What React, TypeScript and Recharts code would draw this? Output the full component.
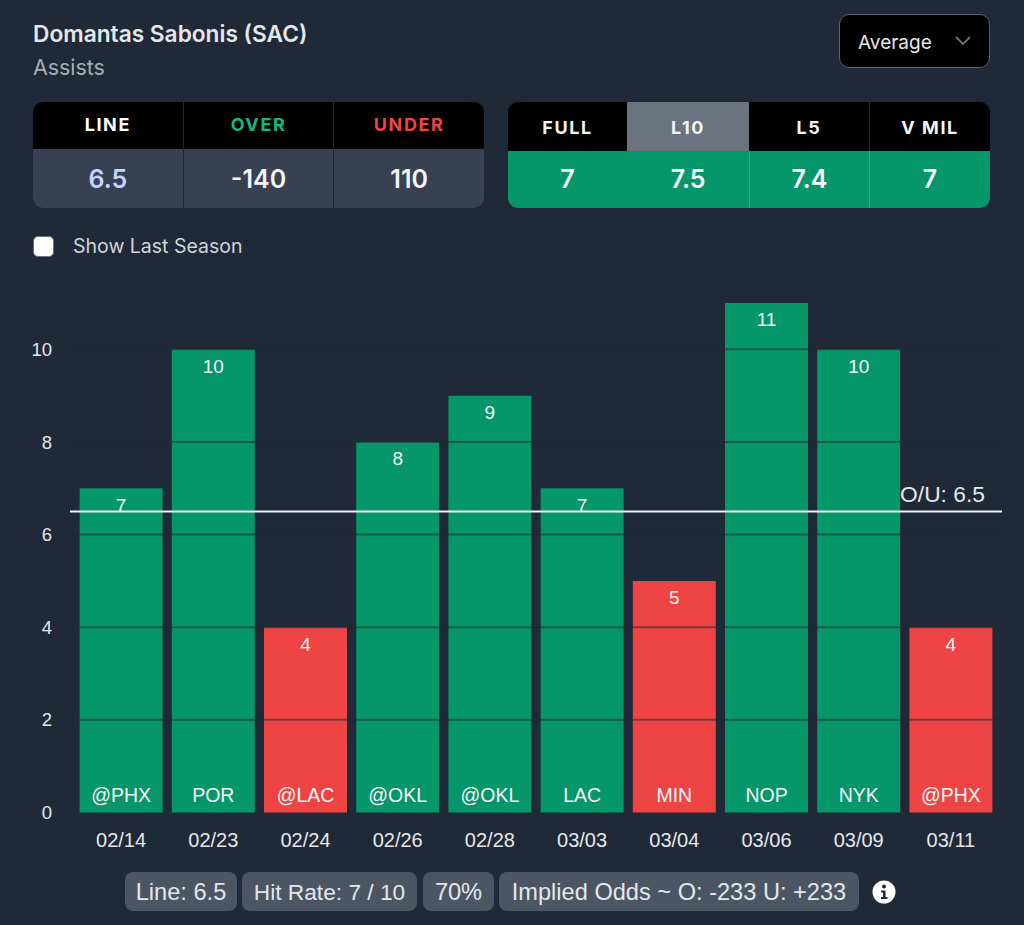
import { BarChart, Bar, Cell, LabelList, ReferenceLine, XAxis, YAxis } from 'recharts';

const dates = ['02/14', '02/23', '02/24', '02/26', '02/28', '03/03', '03/04', '03/06', '03/09', '03/11'];
const opponents = ['@PHX', 'POR', '@LAC', '@OKL', '@OKL', 'LAC', 'MIN', 'NOP', 'NYK', '@PHX'];
const assists = [7, 10, 4, 8, 9, 7, 5, 11, 10, 4];
const yTicks = [0, 2, 4, 6, 8, 10];
const ouLine = 6.5;

const lineHeads = ['LINE', 'OVER', 'UNDER'];
const lineValues = ['6.5', '-140', '110'];
const avgHeads = ['FULL', 'L10', 'L5', 'V MIL'];
const avgValues = ['7', '7.5', '7.4', '7'];
const pillTexts = ['Line: 6.5', 'Hit Rate: 7 / 10', '70%', 'Implied Odds ~ O: -233 U: +233'];

const chartData = dates.map((date, i) => ({ date, opponent: opponents[i], assists: assists[i] }));

const BG = '#1f2937';
const GREEN = '#059669';
const RED = '#ef4444';
const UI_FONT = 'Inter, sans-serif';
const CHART_FONT = '"Liberation Sans", Arial, sans-serif';

// styling per column / pill, same order as the text lists above
const lineHeadColors = ['#ffffff', '#10b981', '#ef4444'];
const lineValueColors = ['#c7d2fe', '#f3f4f6', '#f3f4f6'];
const avgWidths = [119, 122, 120, 121];
const activeAvg = 1;
const pillLefts = [125, 242, 423, 499];
const pillWidths = [112, 175, 71, 360];
const pillFontSizes = [23.6, 22.7, 23.6, 23.6];

function OuLabel({ viewBox }: any) {
  return (
    <text x={viewBox.x + viewBox.width - 17} y={viewBox.y - 9} textAnchor="end" fill="#e5e7eb" fontSize={22.8} fontFamily={CHART_FONT}>
      O/U: {ouLine}
    </text>
  );
}

export default function App() {
  return (
    <div style={{ position: 'absolute', left: 0, top: 0, width: 1024, height: 925, background: BG, overflow: 'hidden', fontFamily: UI_FONT }}>
      <div style={{ position: 'absolute', left: 33, top: 20, fontSize: 22.7, fontWeight: 600, color: '#e5e7eb' }}>Domantas Sabonis (SAC)</div>
      <div style={{ position: 'absolute', left: 33, top: 54, fontSize: 21.4, color: '#a8aeb8' }}>Assists</div>

      <div style={{ position: 'absolute', left: 839, top: 14, width: 149, height: 52, background: '#000', border: '1.5px solid #566070', borderRadius: 10 }}>
        <span style={{ position: 'absolute', left: 18, top: 16, fontSize: 19, color: '#e5e7eb' }}>Average</span>
        <svg width={16} height={10} style={{ position: 'absolute', left: 115, top: 21 }}>
          <path d="M1 1 L8 8 L15 1" fill="none" stroke="#6b7280" strokeWidth={1.8} />
        </svg>
      </div>

      <div style={{ position: 'absolute', left: 33, top: 102, width: 451, height: 106, borderRadius: 10, overflow: 'hidden', display: 'flex' }}>
        {lineHeads.map((head, i) => (
          <div key={head} style={{ flex: 1, borderLeft: i ? '1px solid #1f2937' : 'none' }}>
            <div style={{ height: 47, lineHeight: '46px', background: '#000', color: lineHeadColors[i], textAlign: 'center', fontSize: 18, fontWeight: 700, letterSpacing: 1.6 }}>{head}</div>
            <div style={{ height: 59, lineHeight: '61px', background: '#374151', color: lineValueColors[i], textAlign: 'center', fontSize: 25, fontWeight: 600 }}>{lineValues[i]}</div>
          </div>
        ))}
      </div>

      <div style={{ position: 'absolute', left: 508, top: 102, width: 482, height: 106, borderRadius: 10, overflow: 'hidden', display: 'flex' }}>
        {avgHeads.map((head, i) => (
          <div key={head} style={{ width: avgWidths[i], boxSizing: 'border-box' }}>
            <div style={{ height: 49, lineHeight: '51px', background: i === activeAvg ? '#6b7280' : '#000', color: '#f3f4f6', textAlign: 'center', fontSize: 18, fontWeight: 700, letterSpacing: 1.6, borderLeft: i === 3 ? '1px solid #1f2937' : 'none' }}>{head}</div>
            <div style={{ height: 57, lineHeight: '57px', background: GREEN, color: '#f9fafb', textAlign: 'center', fontSize: 25, fontWeight: 600, borderLeft: i >= 2 ? '1px solid #34a987' : 'none' }}>{avgValues[i]}</div>
          </div>
        ))}
      </div>

      <div style={{ position: 'absolute', left: 33, top: 236, width: 19, height: 19, background: '#fff', border: '1.5px solid #6b7280', borderRadius: 5 }} />
      <div style={{ position: 'absolute', left: 73, top: 234, fontSize: 19.5, color: '#d1d5db' }}>Show Last Season</div>

      <div style={{ position: 'absolute', left: 0, top: 280 }}>
        <BarChart width={1024} height={580} data={chartData} margin={{ top: 23, right: 22, bottom: 0, left: 0 }} barCategoryGap="5%">
          <XAxis
            dataKey="date"
            height={47.5}
            padding={{ left: 5, right: 5 }}
            axisLine={false}
            tickLine={false}
            tickSize={0}
            tickMargin={20}
            interval={0}
            tick={{ fill: '#e5e7eb', fontSize: 20, fontFamily: CHART_FONT }}
          />
          <YAxis
            width={70}
            domain={[0, 11]}
            ticks={yTicks}
            axisLine={false}
            tickLine={false}
            tickSize={0}
            tickMargin={18}
            tick={{ fill: '#e5e7eb', fontSize: 18.5, fontFamily: CHART_FONT }}
          />
          <Bar dataKey="assists" isAnimationActive={false}>
            {chartData.map((d) => (
              <Cell key={d.date} fill={d.assists > ouLine ? GREEN : RED} />
            ))}
            <LabelList dataKey="assists" position="insideTop" offset={10} fill="#f3f4f6" fontSize={19} fontFamily={CHART_FONT} />
            <LabelList dataKey="opponent" position="insideBottom" offset={11} fill="#f3f4f6" fontSize={19.5} fontFamily={CHART_FONT} />
          </Bar>
          {/* gridlines sit on top of the bars here, so they are reference lines */}
          {yTicks.filter((t) => t > 0).map((t) => (
            <ReferenceLine key={t} y={t} stroke={BG} strokeOpacity={0.55} strokeWidth={2} />
          ))}
          <ReferenceLine y={ouLine} stroke="#f3f4f6" strokeWidth={2} label={<OuLabel />} />
        </BarChart>
      </div>

      {pillTexts.map((text, i) => (
        <div key={text} style={{ position: 'absolute', left: pillLefts[i], top: 872, width: pillWidths[i], height: 39, lineHeight: '40px', borderRadius: 8, background: '#4b5563', color: '#e5e7eb', textAlign: 'center', fontSize: pillFontSizes[i], fontFamily: CHART_FONT }}>
          {text}
        </div>
      ))}
      <svg width={24} height={24} style={{ position: 'absolute', left: 872, top: 880 }}>
        <circle cx={12} cy={12} r={11.5} fill="#fff" />
        <circle cx={12} cy={6.5} r={2} fill={BG} />
        <path d="M9 10.5 H13.5 V17 H15.5 V19 H9 V17 H11 V12.5 H9 Z" fill={BG} />
      </svg>
    </div>
  );
}
